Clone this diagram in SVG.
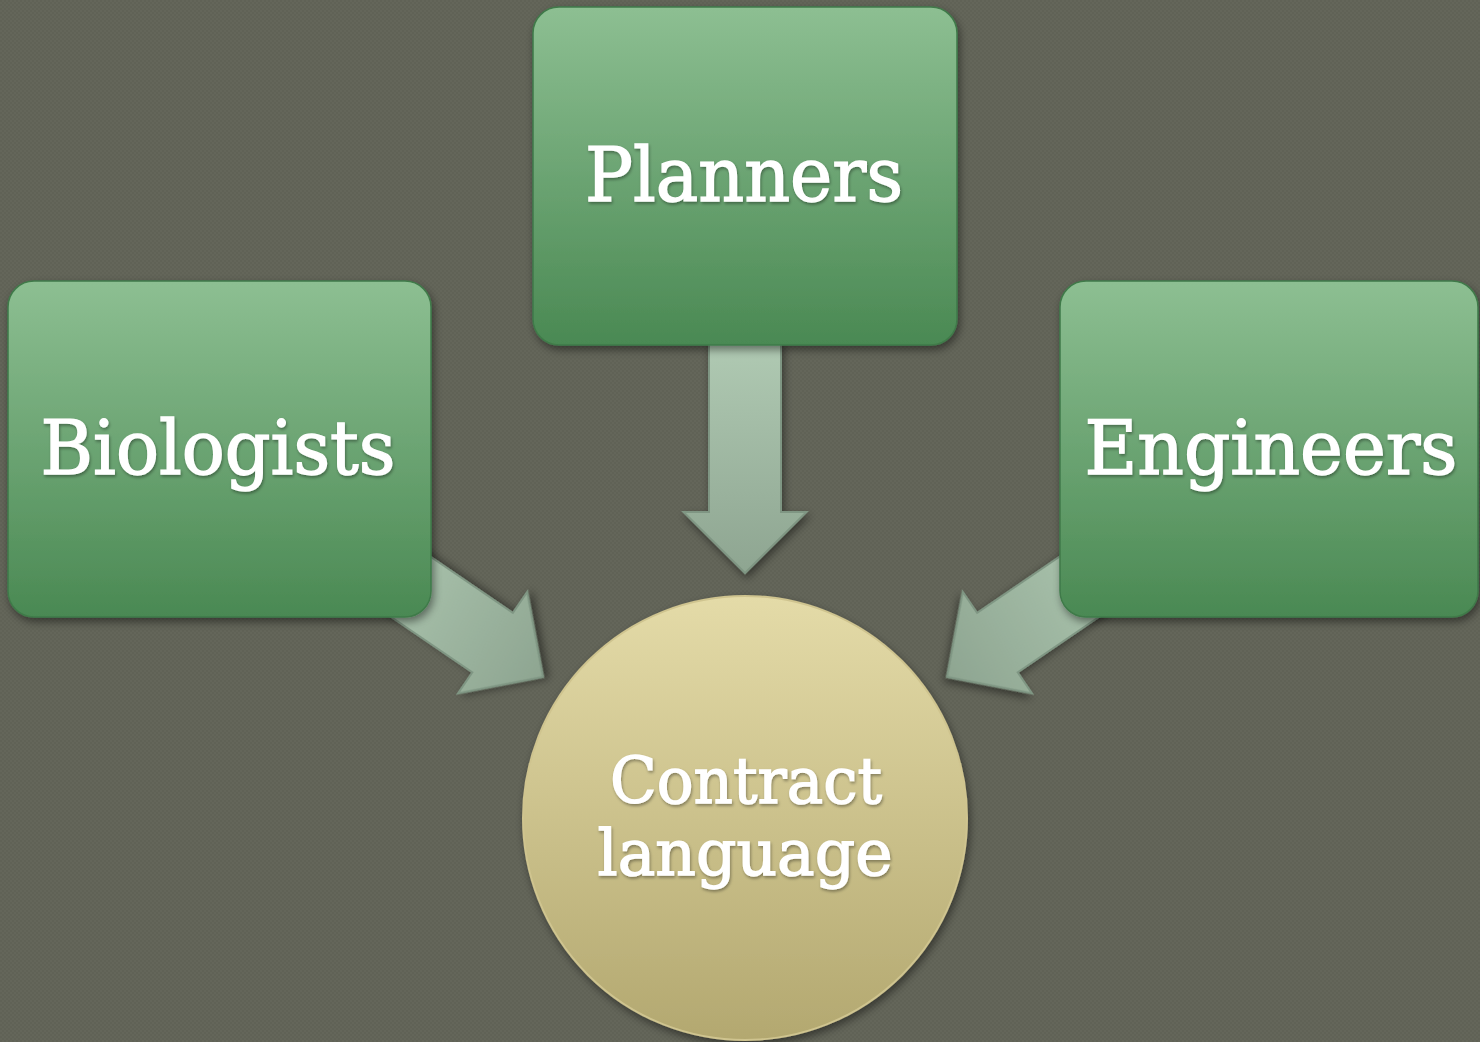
<svg xmlns="http://www.w3.org/2000/svg" width="1480" height="1042" viewBox="0 0 1480 1042">
<defs>
<linearGradient id="gBox" x1="0" y1="0" x2="0" y2="1">
<stop offset="0" stop-color="#8dbf92"/>
<stop offset="1" stop-color="#4a8953"/>
</linearGradient>
<linearGradient id="gCircle" x1="0" y1="0" x2="0" y2="1">
<stop offset="0" stop-color="#e4dba8"/>
<stop offset="1" stop-color="#b3a870"/>
</linearGradient>
<linearGradient id="gArrow" x1="0" y1="0" x2="0" y2="1">
<stop offset="0" stop-color="#b0cab3"/>
<stop offset="1" stop-color="#8ea591"/>
</linearGradient>
<filter id="shadow" x="-20%" y="-20%" width="140%" height="140%">
<feDropShadow dx="2" dy="4" stdDeviation="4" flood-color="#000" flood-opacity="0.45"/>
</filter>
<filter id="tshadow" x="-10%" y="-20%" width="120%" height="140%">
<feDropShadow dx="1" dy="2" stdDeviation="1.5" flood-color="#000" flood-opacity="0.35"/>
</filter>
<pattern id="tex" width="4" height="4" patternUnits="userSpaceOnUse">
<rect width="4" height="4" fill="#64665a"/>
<rect width="2" height="2" fill="#606256"/>
<rect x="2" y="2" width="2" height="2" fill="#606256"/>
</pattern>
<path id="arrowShape" d="M0,0 L-61.5,-61 L-36,-61 L-36,-232 L36,-232 L36,-61 L61.5,-61 Z"/>
</defs>
<style>
.box { fill: url(#gBox); stroke: #3f7a49; stroke-width: 1.5; filter: url(#shadow); }
.circ { fill: url(#gCircle); stroke: #cfc48f; stroke-width: 2; filter: url(#shadow); }
.arrow { fill: url(#gArrow); stroke: #7f9683; stroke-width: 2; stroke-linejoin: miter; filter: url(#shadow); }
.lbl { font-family: "DejaVu Serif", "Liberation Serif", serif; fill: #ffffff; stroke: #ffffff; stroke-width: 1.4; text-anchor: middle; filter: url(#tshadow); }
</style>
<rect width="1480" height="1042" fill="url(#tex)"/>
<g id="connectors">
<use href="#arrowShape" class="arrow" transform="translate(745,573)"/>
<use href="#arrowShape" class="arrow" transform="translate(543,677) rotate(-55.7)"/>
<use href="#arrowShape" class="arrow" transform="translate(947,677) rotate(55.7)"/>
</g>
<g id="node-planners">
<rect class="box" x="533" y="7" width="424" height="338" rx="26"/>
<text class="lbl" x="744" y="201" font-size="74" textLength="318" lengthAdjust="spacingAndGlyphs">Planners</text>
</g>
<g id="node-biologists">
<rect class="box" x="8" y="281" width="423" height="336" rx="26"/>
<text class="lbl" x="218" y="474" font-size="74" textLength="355" lengthAdjust="spacingAndGlyphs">Biologists</text>
</g>
<g id="node-engineers">
<rect class="box" x="1060" y="281" width="418" height="336" rx="26"/>
<text class="lbl" x="1271" y="474" font-size="74" textLength="373" lengthAdjust="spacingAndGlyphs">Engineers</text>
</g>
<g id="node-contract">
<circle class="circ" cx="745" cy="818" r="222"/>
<text class="lbl" x="746" y="803" font-size="64" textLength="272" lengthAdjust="spacingAndGlyphs">Contract</text>
<text class="lbl" x="745" y="875" font-size="64" textLength="295" lengthAdjust="spacingAndGlyphs">language</text>
</g>
</svg>
